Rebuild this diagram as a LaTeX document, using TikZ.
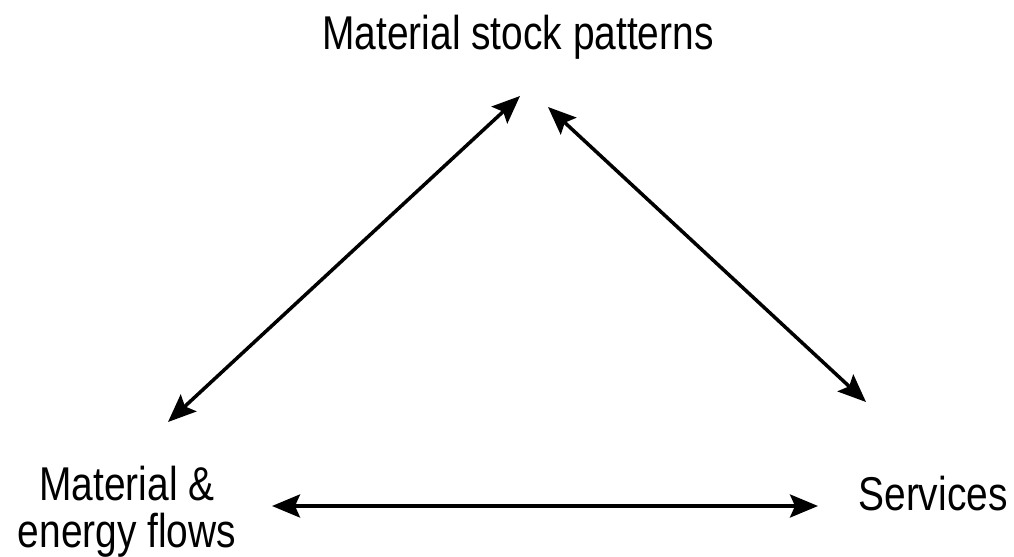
\documentclass[tikz,border=0pt]{standalone}
\usepackage{fontspec}
\setmainfont{Liberation Sans}[FakeStretch=0.82]
\usepackage{tikz}
\usetikzlibrary{arrows.meta, positioning}

\begin{document}
\begin{tikzpicture}[x=0.02cm, y=-0.02cm,
    label/.style={inner sep=0pt, font=\fontsize{27}{27}\selectfont, align=center},
    link/.style={line width=2pt, {Stealth[length=0.56cm, width=0.46cm, inset=0.1cm]}-{Stealth[length=0.56cm, width=0.46cm, inset=0.1cm]}}]

    \useasboundingbox (0,0) rectangle (1014,557);

    % Labels
    \node[label, anchor=base] (stock) at (518,50) {Material stock patterns};
    \node[label] (flows) at (127,512) {Material \&\\energy flows};
    \node[label, anchor=base] (services) at (933,510) {Services};

    % Arrow ends
    \coordinate (stockL) at (520,96);
    \coordinate (stockR) at (548,107);
    \coordinate (flowsT) at (168,422);
    \coordinate (flowsR) at (272,506);
    \coordinate (servicesT) at (866,402);
    \coordinate (servicesL) at (818,506);

    % Arrows
    \draw[link] (flowsT) -- (stockL);
    \draw[link] (stockR) -- (servicesT);
    \draw[link] (flowsR) -- (servicesL);

\end{tikzpicture}
\end{document}
